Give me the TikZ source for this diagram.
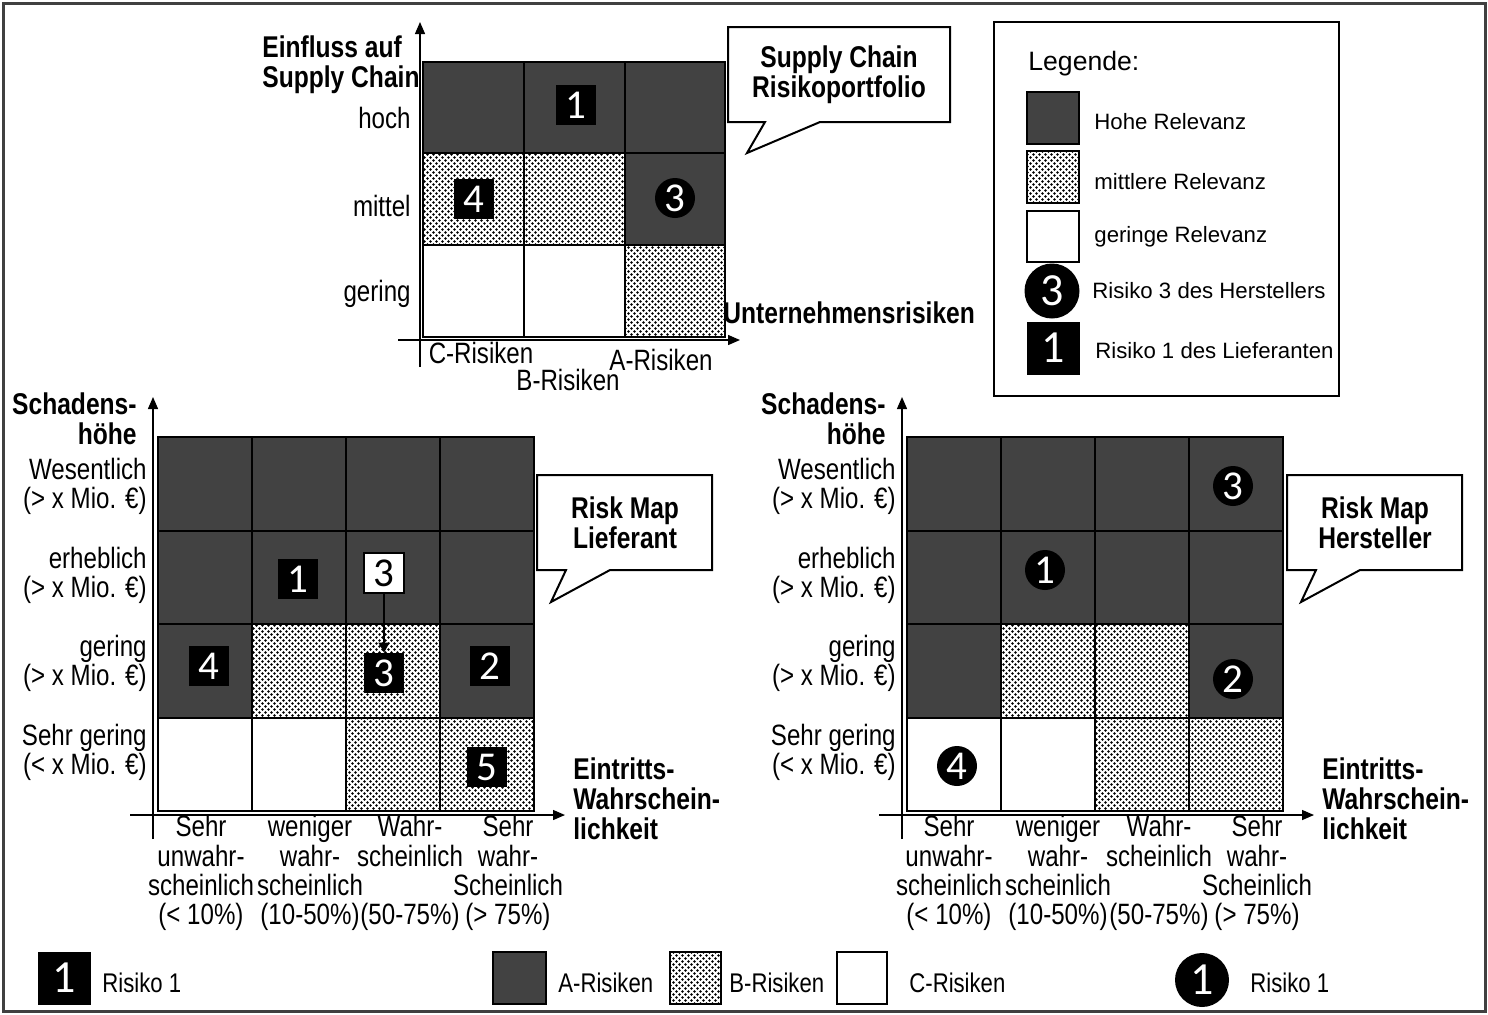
\documentclass[tikz,border=0pt]{standalone}
\usepackage{fontspec}
\setmainfont{Liberation Sans}
\newfontfamily\narrowfont[FakeStretch=0.82]{Liberation Sans}
\newfontfamily\digitfont{Carlito}
\usetikzlibrary{arrows.meta, patterns.meta}

\definecolor{hoch}{HTML}{424242}

\tikzdeclarepattern{
  name=punkte,
  type=uncolored,
  bottom left={(-0.1pt,-0.1pt)},
  top right={(3.1pt,3.1pt)},
  tile size={(3pt,3pt)},
  code={
    \fill (0.75pt,0.75pt) circle (0.65pt);
    \fill (2.25pt,2.25pt) circle (0.65pt);
  }
}

\begin{document}
\begin{tikzpicture}[x=0.5pt, y=-0.5pt,
    gridline/.style={line width=1pt, black},
    axisline/.style={line width=0.7pt, -{Triangle[length=6pt,width=5pt]}},
    darkcell/.style={fill=hoch},
    dotcell/.style={pattern=punkte, pattern color=black},
    legbox/.style={draw=black, line width=0.8pt},
    lbl/.style={font=\narrowfont\fontsize{14.7}{14.6}\selectfont, inner sep=0pt},
    boldlbl/.style={font=\narrowfont\bfseries\fontsize{15}{15}\selectfont, inner sep=0pt},
    legtxt/.style={font=\fontsize{11.1}{13}\selectfont, inner sep=0pt, anchor=west},
    footxt/.style={font=\narrowfont\fontsize{13.5}{14}\selectfont, inner sep=0pt, anchor=west},
    sqmark/.style={fill=black, text=white, font=\digitfont\fontsize{20.5}{20.5}\selectfont,
      minimum width=20pt, minimum height=20pt, inner sep=0pt},
    circmark/.style={circle, fill=black, text=white, font=\digitfont\fontsize{20.5}{20.5}\selectfont,
      minimum size=20pt, inner sep=0pt},
    bigmark/.style={minimum size=26.5pt, font=\digitfont\fontsize{23}{23}\selectfont},
    bubble/.style={draw=black, line width=1pt, fill=white}
  ]
  \useasboundingbox (0,0) rectangle (1488,1014);

  % Outer frame
  \draw[line width=1.5pt, black!75] (3,3) rectangle (1485,1011);

  % Supply chain portfolio: cells
  \fill[darkcell] (423,62) rectangle (725,153);
  \fill[dotcell] (423,153) rectangle (625,245);
  \fill[darkcell] (625,153) rectangle (725,245);
  \fill[dotcell] (625,245) rectangle (725,337);
  \draw[gridline] (423,62) rectangle (725,337)
    (524,62) -- (524,337) (625,62) -- (625,337)
    (423,153) -- (725,153) (423,245) -- (725,245);

  % Risks in the portfolio
  \node[sqmark] (p1) at (576,105) {1};
  \node[sqmark] (p4) at (474,199) {4};
  \node[circmark] (p3) at (675,198) {3};

  % Axes of the portfolio
  \draw[axisline] (420,367) -- (420,22);
  \draw[axisline] (398,340) -- (740,340);

  % Labels of the portfolio
  \node[boldlbl, anchor=west, align=left] (pyax) at (262,65) {Einfluss auf\\Supply Chain};
  \node[lbl, anchor=east] (phoch) at (411,118) {hoch};
  \node[lbl, anchor=east] (pmittel) at (411,206) {mittel};
  \node[lbl, anchor=east] (pgering) at (411,294) {gering};
  \node[lbl] (pc) at (481,353) {C-Risiken};
  \node[lbl] (pb) at (568,380) {B-Risiken};
  \node[lbl] (pa) at (661,360) {A-Risiken};
  \node[boldlbl, anchor=west] (pxax) at (723,313) {Unternehmensrisiken};

  % Callout of the portfolio
  \draw[bubble] (728,27) -- (950,27) -- (950,122) -- (820,122) -- (747,153)
    -- (765,122) -- (728,122) -- cycle;
  \node[boldlbl, align=center] (ptitle) at (839,75) {Supply Chain\\Risikoportfolio};

  % Legend
  \draw[line width=0.8pt] (994,22) rectangle (1339,396);
  \node[font=\fontsize{13.3}{15}\selectfont, inner sep=0pt, anchor=west] (legtitle) at (1028,64) {Legende:};
  \draw[legbox, fill=hoch] (1027,92) rectangle (1079,144);
  \draw[legbox, dotcell] (1027,151) rectangle (1079,203);
  \draw[legbox] (1027,211) rectangle (1079,262);
  \node[circmark, bigmark, minimum size=27.5pt] (leg3) at (1052,291) {3};
  \node[sqmark, bigmark] (leg1) at (1053,348) {1};
  \node[legtxt] (leghoch) at (1094,122) {Hohe Relevanz};
  \node[legtxt] (legmittel) at (1094,182) {mittlere Relevanz};
  \node[legtxt] (leggering) at (1094,237) {geringe Relevanz};
  \node[legtxt] (legherst) at (1092,291) {Risiko 3 des Herstellers};
  \node[legtxt] (leglief) at (1095,351) {Risiko 1 des Lieferanten};

  % Risk map Lieferant: cells
  \fill[darkcell] (158,437) rectangle (534,624);
  \fill[darkcell] (158,624) rectangle (252,718);
  \fill[dotcell] (252,624) rectangle (440,718);
  \fill[darkcell] (440,624) rectangle (534,718);
  \fill[dotcell] (346,718) rectangle (534,811);
  \draw[gridline] (158,437) rectangle (534,811)
    (252,437) -- (252,811) (346,437) -- (346,811) (440,437) -- (440,811)
    (158,531) -- (534,531) (158,624) -- (534,624) (158,718) -- (534,718);

  % Risks of the Lieferant
  \node[sqmark] (l1) at (298,579) {1};
  \node[sqmark, draw=black, line width=0.8pt, fill=white, text=black] (l3a) at (384,573) {3};
  \node[sqmark] (l3b) at (384,673) {3};
  \node[sqmark] (l4) at (209,666) {4};
  \node[sqmark] (l2) at (490,666) {2};
  \node[sqmark] (l5) at (487,767) {5};
  \draw[line width=0.6pt, -{Triangle[length=5pt,width=5.5pt]}] (l3a) -- (l3b);

  % Axes of the Lieferant map
  \draw[axisline] (153,839) -- (153,397);
  \draw[axisline] (130,815) -- (565,815);

  % Labels of the Lieferant map
  \node[boldlbl, anchor=east, align=right] (lyax) at (137,419) {Schadens-\\höhe};
  \node[lbl, anchor=east, align=right] (lwes) at (147,486) {Wesentlich\\(> x Mio. €)};
  \node[lbl, anchor=east, align=right] (lerh) at (147,575) {erheblich\\(> x Mio. €)};
  \node[lbl, anchor=east, align=right] (lger) at (147,663) {gering\\(> x Mio. €)};
  \node[lbl, anchor=east, align=right] (lsger) at (147,752) {Sehr gering\\(< x Mio. €)};
  \node[lbl, align=center] (lsu) at (201,873) {Sehr\\unwahr-\\scheinlich\\(< 10\%)};
  \node[lbl, align=center] (lwe) at (310,873) {weniger\\wahr-\\scheinlich\\(10-50\%)};
  \node[lbl, align=center] (lwa) at (410,873) {Wahr-\\scheinlich\\\mbox{}\\(50-75\%)};
  \node[lbl, align=center] (lsw) at (508,873) {Sehr\\wahr-\\Scheinlich\\(> 75\%)};
  \node[boldlbl, anchor=west, align=left] (lxax) at (573,799) {Eintritts-\\Wahrschein-\\lichkeit};

  % Callout of the Lieferant map
  \draw[bubble] (537,475) -- (712,475) -- (712,570) -- (610,570) -- (551,602)
    -- (566,570) -- (537,570) -- cycle;
  \node[boldlbl, align=center] (ltitle) at (625,523) {Risk Map\\Lieferant};

  % Risk map Hersteller: cells
  \fill[darkcell] (907,437) rectangle (1283,624);
  \fill[darkcell] (907,624) rectangle (1001,718);
  \fill[dotcell] (1001,624) rectangle (1189,718);
  \fill[darkcell] (1189,624) rectangle (1283,718);
  \fill[dotcell] (1095,718) rectangle (1283,811);
  \draw[gridline] (907,437) rectangle (1283,811)
    (1001,437) -- (1001,811) (1095,437) -- (1095,811) (1189,437) -- (1189,811)
    (907,531) -- (1283,531) (907,624) -- (1283,624) (907,718) -- (1283,718);

  % Risks of the Hersteller
  \node[circmark] (h3) at (1233,486) {3};
  \node[circmark] (h1) at (1045,570) {1};
  \node[circmark] (h2) at (1233,679) {2};
  \node[circmark] (h4) at (957,766) {4};

  % Axes of the Hersteller map
  \draw[axisline] (902,839) -- (902,397);
  \draw[axisline] (879,815) -- (1314,815);

  % Labels of the Hersteller map
  \node[boldlbl, anchor=east, align=right] (hyax) at (886,419) {Schadens-\\höhe};
  \node[lbl, anchor=east, align=right] (hwes) at (896,486) {Wesentlich\\(> x Mio. €)};
  \node[lbl, anchor=east, align=right] (herh) at (896,575) {erheblich\\(> x Mio. €)};
  \node[lbl, anchor=east, align=right] (hger) at (896,663) {gering\\(> x Mio. €)};
  \node[lbl, anchor=east, align=right] (hsger) at (896,752) {Sehr gering\\(< x Mio. €)};
  \node[lbl, align=center] (hsu) at (949,873) {Sehr\\unwahr-\\scheinlich\\(< 10\%)};
  \node[lbl, align=center] (hwe) at (1058,873) {weniger\\wahr-\\scheinlich\\(10-50\%)};
  \node[lbl, align=center] (hwa) at (1159,873) {Wahr-\\scheinlich\\\mbox{}\\(50-75\%)};
  \node[lbl, align=center] (hsw) at (1257,873) {Sehr\\wahr-\\Scheinlich\\(> 75\%)};
  \node[boldlbl, anchor=west, align=left] (hxax) at (1322,799) {Eintritts-\\Wahrschein-\\lichkeit};

  % Callout of the Hersteller map
  \draw[bubble] (1287,475) -- (1462,475) -- (1462,570) -- (1360,570) -- (1301,602)
    -- (1316,570) -- (1287,570) -- cycle;
  \node[boldlbl, align=center] (htitle) at (1375,523) {Risk Map\\Hersteller};

  % Key at the bottom
  \node[sqmark, bigmark] (k1) at (64,978) {1};
  \node[footxt] (k1txt) at (102,983) {Risiko 1};
  \draw[legbox, fill=hoch] (493,952) rectangle (546,1004);
  \node[footxt] (katxt) at (558,983) {A-Risiken};
  \draw[legbox, dotcell] (670,952) rectangle (721,1004);
  \node[footxt] (kbtxt) at (729,983) {B-Risiken};
  \draw[legbox] (837,952) rectangle (887,1004);
  \node[footxt] (kctxt) at (909,983) {C-Risiken};
  \node[circmark, bigmark, minimum size=27pt] (k2) at (1202,980) {1};
  \node[footxt] (k2txt) at (1250,983) {Risiko 1};
\end{tikzpicture}
\end{document}
